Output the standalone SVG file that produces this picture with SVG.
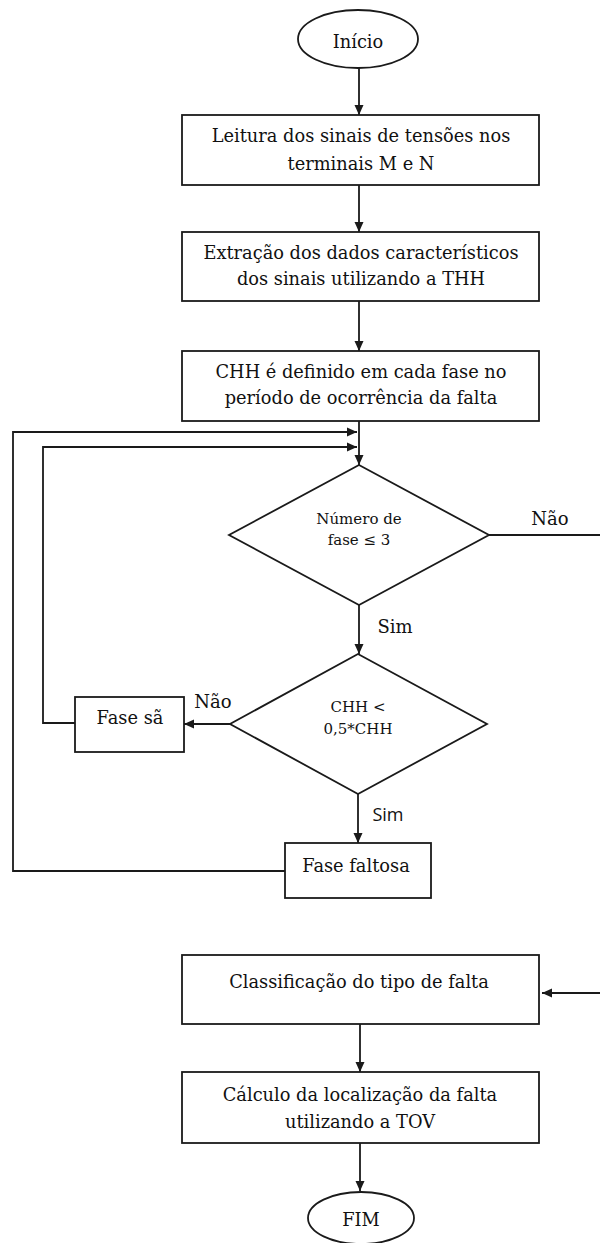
<svg xmlns="http://www.w3.org/2000/svg" width="600" height="1243" viewBox="0 0 600 1243">
<style>
.n{fill:#fff;stroke:#1a1a1a;stroke-width:1.8}
.c{fill:none;stroke:#1a1a1a;stroke-width:1.8}
.t{font-family:"DejaVu Serif","Liberation Serif",serif;font-size:17.8px;fill:#111;text-anchor:middle}
.d{font-family:"DejaVu Serif","Liberation Serif",serif;font-size:15px;fill:#111;text-anchor:middle}
.l{font-family:"DejaVu Serif","Liberation Serif",serif;font-size:18px;fill:#111;text-anchor:middle}
.s{font-family:"Open Sans","Liberation Sans",sans-serif;font-size:18px;fill:#111;text-anchor:middle}
</style>
<defs>
<marker id="ah" markerWidth="10" markerHeight="10" refX="10" refY="5" orient="auto" markerUnits="userSpaceOnUse"><path d="M0,0.5 L10,5 L0,9.5 z" fill="#1a1a1a"/></marker>
</defs>
<rect width="600" height="1243" fill="#fff"/>
<g id="connectors">
<path class="c" d="M359,68 V115" marker-end="url(#ah)"/>
<path class="c" d="M359,185 V232" marker-end="url(#ah)"/>
<path class="c" d="M359,301 V351" marker-end="url(#ah)"/>
<path class="c" d="M359,421 V465" marker-end="url(#ah)"/>
<path class="c" d="M489,535 H600"/>
<path class="c" d="M359,605 V654" marker-end="url(#ah)"/>
<path class="c" d="M230,724 H184" marker-end="url(#ah)"/>
<path class="c" d="M358,794 V843" marker-end="url(#ah)"/>
<path class="c" d="M285,871 H13 V432 H357" marker-end="url(#ah)"/>
<path class="c" d="M75,723 H43 V447 H357" marker-end="url(#ah)"/>
<path class="c" d="M600,993 H542" marker-end="url(#ah)"/>
<path class="c" d="M360,1024 V1072" marker-end="url(#ah)"/>
<path class="c" d="M360,1143 V1191" marker-end="url(#ah)"/>
<text class="l" x="550" y="525">Não</text>
<text class="l" x="395" y="633">Sim</text>
<text class="l" x="213" y="708">Não</text>
<text class="s" x="388" y="821">Sim</text>
</g>
<g id="inicio">
<ellipse class="n" cx="358" cy="39" rx="60" ry="29"/>
<text class="t" x="358" y="48">Início</text>
</g>
<g id="leitura">
<rect class="n" x="182" y="115" width="357" height="70"/>
<text class="t" x="361" y="142">Leitura dos sinais de tensões nos</text>
<text class="t" x="361" y="170">terminais M e N</text>
</g>
<g id="extracao">
<rect class="n" x="182" y="232" width="357" height="69"/>
<text class="t" x="361" y="259">Extração dos dados característicos</text>
<text class="t" x="361" y="285">dos sinais utilizando a THH</text>
</g>
<g id="chh">
<rect class="n" x="182" y="351" width="357" height="70"/>
<text class="t" x="361" y="378">CHH é definido em cada fase no</text>
<text class="t" x="361" y="404">período de ocorrência da falta</text>
</g>
<g id="decisao1">
<polygon class="n" points="359,465 489,535 359,605 229,535"/>
<text class="d" x="359" y="524">Número de</text>
<text class="d" x="359" y="545">fase ≤ 3</text>
</g>
<g id="decisao2">
<polygon class="n" points="358,654 487,724 358,794 230,724"/>
<text class="d" x="358" y="712">CHH &lt;</text>
<text class="d" x="358" y="734">0,5*CHH</text>
</g>
<g id="fase-sa">
<rect class="n" x="75" y="697" width="109" height="55"/>
<text class="t" x="130" y="724">Fase sã</text>
</g>
<g id="fase-faltosa">
<rect class="n" x="285" y="843" width="146" height="55"/>
<text class="t" x="356" y="872">Fase faltosa</text>
</g>
<g id="classificacao">
<rect class="n" x="182" y="955" width="357" height="69"/>
<text class="t" x="359" y="988">Classificação do tipo de falta</text>
</g>
<g id="calculo">
<rect class="n" x="182" y="1072" width="357" height="71"/>
<text class="t" x="360" y="1101">Cálculo da localização da falta</text>
<text class="t" x="360" y="1128">utilizando a TOV</text>
</g>
<g id="fim">
<ellipse class="n" cx="361" cy="1218" rx="53" ry="26"/>
<text class="t" x="361" y="1226">FIM</text>
</g>
</svg>
